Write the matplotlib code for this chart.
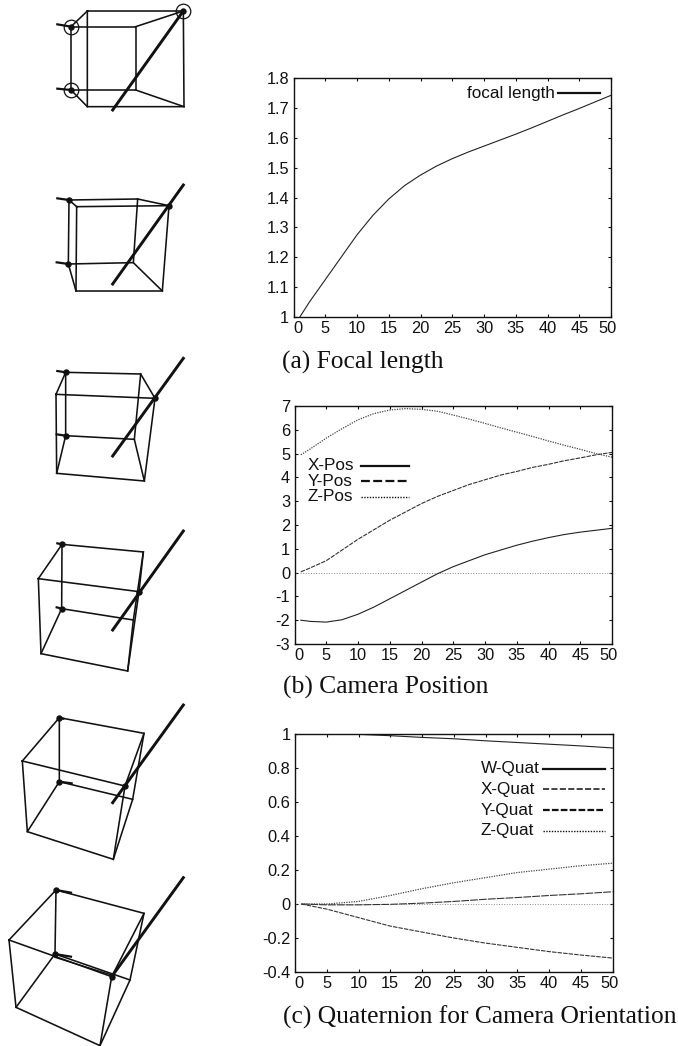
import matplotlib
matplotlib.use('Agg')
import matplotlib.pyplot as plt
import matplotlib.transforms as mtrans

W = 678
H = 1046

# curves
focal_x = [1, 2.5, 5, 7.5, 10, 12.5, 15, 17.5, 20, 22.5, 25, 27.5, 30, 32.5, 35, 37.5, 40, 42.5, 45, 47.5, 50]
focal_y = [1.0, 1.05, 1.125, 1.2, 1.275, 1.34, 1.395, 1.44, 1.475, 1.505, 1.53, 1.552, 1.572, 1.592, 1.612, 1.633, 1.655, 1.677, 1.698, 1.72, 1.742]

pos_x = [1, 2.5, 5, 7.5, 10, 12.5, 15, 17.5, 20, 22.5, 25, 27.5, 30, 32.5, 35, 37.5, 40, 42.5, 45, 47.5, 50]
x_pos = [-2.0, -2.05, -2.08, -1.98, -1.75, -1.45, -1.1, -0.75, -0.4, -0.05, 0.25, 0.5, 0.75, 0.95, 1.15, 1.32, 1.47, 1.6, 1.7, 1.78, 1.86]
y_pos = [0.03, 0.2, 0.5, 0.95, 1.4, 1.8, 2.2, 2.55, 2.9, 3.2, 3.45, 3.7, 3.9, 4.1, 4.25, 4.42, 4.55, 4.7, 4.82, 4.95, 5.05]
z_pos = [4.95, 5.2, 5.65, 6.05, 6.42, 6.68, 6.83, 6.89, 6.86, 6.78, 6.62, 6.45, 6.27, 6.08, 5.9, 5.72, 5.53, 5.35, 5.18, 5.0, 4.85]

quat_x = [1, 5, 10, 15, 20, 25, 30, 35, 40, 45, 50]
w_quat = [1.0, 1.0, 0.998, 0.99, 0.98, 0.972, 0.96, 0.95, 0.94, 0.93, 0.918]
x_quat = [0.0, -0.03, -0.08, -0.13, -0.165, -0.2, -0.23, -0.255, -0.28, -0.3, -0.318]
y_quat = [0.0, -0.005, -0.005, -0.002, 0.005, 0.015, 0.028, 0.038, 0.05, 0.06, 0.072]
z_quat = [0.0, 0.0, 0.015, 0.05, 0.09, 0.125, 0.155, 0.185, 0.205, 0.225, 0.24]

x_ticks = list(range(0, 55, 5))
focal_ticks = [1, 1.1, 1.2, 1.3, 1.4, 1.5, 1.6, 1.7, 1.8]
focal_labels = ['1', '1.1', '1.2', '1.3', '1.4', '1.5', '1.6', '1.7', '1.8']
pos_ticks = [-3, -2, -1, 0, 1, 2, 3, 4, 5, 6, 7]
pos_labels = ['-3', '-2', '-1', '0', '1', '2', '3', '4', '5', '6', '7']
quat_ticks = [-0.4, -0.2, 0, 0.2, 0.4, 0.6, 0.8, 1]
quat_labels = ['-0.4', '-0.2', '0', '0.2', '0.4', '0.6', '0.8', '1']

# wire cubes, 3x picture coords. rear[i] joins front[i]
cube_rear = [
    [(213, 80), (407, 80), (407, 270), (213, 270)],
    [(207, 600), (413, 597), (400, 788), (205, 792)],
    [(197, 1117), (422, 1122), (403, 1318), (197, 1307)],
    [(186, 1633), (430, 1656), (400, 1860), (185, 1826)],
    [(178, 2153), (432, 2200), (398, 2398), (178, 2345)],
    [(168, 2670), (432, 2740), (390, 2940), (165, 2862)],
]
cube_front = [
    [(262, 33), (550, 33), (552, 320), (262, 320)],
    [(230, 620), (507, 617), (487, 873), (228, 873)],
    [(168, 1183), (465, 1195), (433, 1443), (170, 1420)],
    [(115, 1736), (417, 1775), (383, 2013), (123, 1961)],
    [(67, 2283), (375, 2358), (340, 2578), (82, 2495)],
    [(27, 2820), (335, 2930), (300, 3137), (48, 3022)],
]
view_rays = [
    [(338, 330), (550, 33)],
    [(338, 852), (550, 555)],
    [(338, 1368), (550, 1075)],
    [(338, 1890), (550, 1593)],
    [(338, 2408), (550, 2115)],
    [(335, 2930), (550, 2633)],
]
# little arrows at the two left corners
arrow_top = [(172, 73), (172, 595), (172, 1113), (172, 1630), (190, 2156), (213, 2678)]
arrow_low = [(172, 266), (170, 787), (170, 1303), (170, 1822), (215, 2350), (213, 2870)]

plt.rcParams['font.family'] = ['Liberation Sans', 'DejaVu Sans']

fig = plt.figure(figsize=(W / 100, H / 100), dpi=100)

# overlay for cubes, axes cover whole page in 3x coords
bg = fig.add_axes([0, 0, 1, 1])
bg.set_xlim(0, W * 3)
bg.set_ylim(H * 3, 0)
bg.axis('off')

ink = '#111111'
for i in range(len(cube_rear)):
    rear = cube_rear[i]
    front = cube_front[i]
    for quad in (rear, front):
        xs = [p[0] for p in quad] + [quad[0][0]]
        ys = [p[1] for p in quad] + [quad[0][1]]
        bg.plot(xs, ys, color=ink, lw=1.15, solid_joinstyle='miter')
    for a, b in zip(rear, front):
        bg.plot([a[0], b[0]], [a[1], b[1]], color=ink, lw=1.15)
    bg.plot([view_rays[i][0][0], view_rays[i][1][0]], [view_rays[i][0][1], view_rays[i][1][1]], color=ink, lw=2.1)
    # corner dots
    dots = [rear[0], rear[3], front[1]]
    bg.plot([p[0] for p in dots], [p[1] for p in dots], 'o', color=ink, ms=4.6, mew=0)
    bg.plot([arrow_top[i][0], rear[0][0]], [arrow_top[i][1], rear[0][1]], color=ink, lw=1.6)
    bg.plot([arrow_low[i][0], rear[3][0]], [arrow_low[i][1], rear[3][1]], color=ink, lw=1.6)
    if i == 0:
        bg.plot([p[0] for p in dots], [p[1] for p in dots], 'o', mfc='none', mec=ink, ms=10.5, mew=0.9)
    if i == 5:
        # second line next to the long edge
        bg.plot([rear[3][0], front[1][0]], [rear[3][1] + 10, front[1][1] - 5], color=ink, lw=1.0)


def make_axes(left, top, right, bottom, ylim, yticks, ylabels):
    ax = fig.add_axes([left / W, 1 - bottom / H, (right - left) / W, (bottom - top) / H])
    ax.set_xlim(0, 50)
    ax.set_ylim(*ylim)
    ax.set_xticks(x_ticks)
    ax.set_yticks(yticks)
    ax.set_yticklabels(ylabels)
    ax.tick_params(direction='in', length=2.5, width=0.8, top=True, right=True, labelsize=11.8, pad=3.2, colors='#111111')
    for s in ax.spines.values():
        s.set_linewidth(1.0)
        s.set_color('#111111')
    ax.patch.set_alpha(0)
    # first x label sits right of its tick, last one a bit left
    off = mtrans.ScaledTranslation(4 / 100, 0, fig.dpi_scale_trans)
    lab = ax.get_xticklabels()[0]
    lab.set_transform(lab.get_transform() + off)
    off = mtrans.ScaledTranslation(-3 / 100, 0, fig.dpi_scale_trans)
    lab = ax.get_xticklabels()[-1]
    lab.set_transform(lab.get_transform() + off)
    return ax


def key(ax, label, xt, xa, xb, y, style, lw, right=False):
    ax.text(xt, y, label, transform=ax.transAxes, fontsize=12.3, color='#111111', va='center', ha='right' if right else 'left')
    ax.plot([xa, xb], [y, y], transform=ax.transAxes, color='#111111', lw=lw, ls=style)


# (a)
ax1 = make_axes(293.5, 78, 611, 317, (1, 1.8), focal_ticks, focal_labels)
ax1.plot(focal_x, focal_y, color='#222222', lw=0.8)
key(ax1, 'focal length', 0.824, 0.834, 0.965, 0.937, '-', 1.6, right=True)

# (b)
ax2 = make_axes(294.5, 406, 612, 644, (-3, 7), pos_ticks, pos_labels)
ax2.axhline(0, color='#888888', lw=0.7, ls=':')
ax2.plot(pos_x, x_pos, color='#222222', lw=0.8)
ax2.plot(pos_x, y_pos, color='#333333', lw=0.8, ls=(0, (4, 1)))
ax2.plot(pos_x, z_pos, color='#444444', lw=0.9, ls=(0, (1, 1)))
key(ax2, 'X-Pos', 0.042, 0.21, 0.36, 0.748, '-', 1.6)
key(ax2, 'Y-Pos', 0.042, 0.21, 0.36, 0.684, (0, (4, 1.5)), 1.6)
key(ax2, 'Z-Pos', 0.042, 0.21, 0.36, 0.619, (0, (1, 1)), 1.0)

# (c)
ax3 = make_axes(295, 734, 612.5, 972, (-0.4, 1), quat_ticks, quat_labels)
ax3.axhline(0, color='#888888', lw=0.7, ls=':')
ax3.plot(quat_x, w_quat, color='#222222', lw=0.8)
ax3.plot(quat_x, x_quat, color='#333333', lw=0.8, ls=(0, (4, 1)))
ax3.plot(quat_x, y_quat, color='#333333', lw=0.8, ls=(0, (7, 1)))
ax3.plot(quat_x, z_quat, color='#444444', lw=0.9, ls=(0, (1, 1)))
key(ax3, 'W-Quat', 0.585, 0.78, 0.976, 0.853, '-', 1.6)
key(ax3, 'X-Quat', 0.585, 0.78, 0.976, 0.767, (0, (4, 1.5)), 1.1)
key(ax3, 'Y-Quat', 0.585, 0.78, 0.976, 0.680, (0, (3, 1)), 1.6)
key(ax3, 'Z-Quat', 0.585, 0.78, 0.976, 0.593, (0, (1, 1)), 1.0)

cap = dict(family=['Liberation Serif', 'DejaVu Serif'], fontsize=18.4, color='#111111', va='center', ha='left')
fig.text(282 / W, 1 - 362 / H, '(a) Focal length', **cap)
fig.text(283 / W, 1 - 687 / H, '(b) Camera Position', **cap)
fig.text(283 / W, 1 - 1017 / H, '(c) Quaternion for Camera Orientation', **cap)

plt.savefig('out.png', dpi=100)
